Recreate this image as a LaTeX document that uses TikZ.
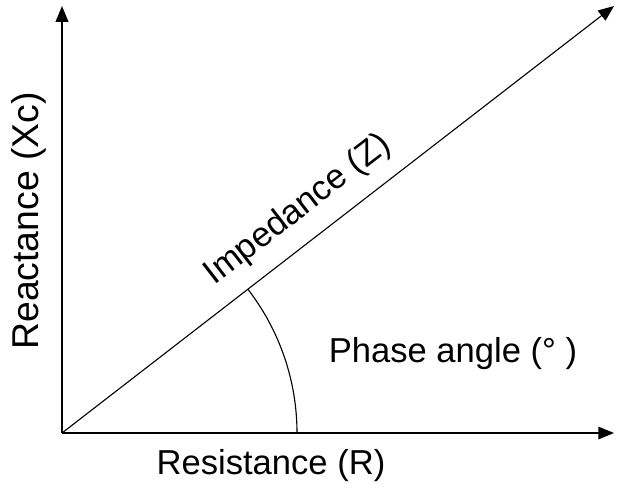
\documentclass[tikz,border=0pt]{standalone}
\usepackage{fontspec}
\setmainfont{Liberation Sans}
\usetikzlibrary{arrows.meta}

\begin{document}
\begin{tikzpicture}[x=0.0254cm, y=-0.0254cm,
    axis/.style={line width=1.1pt, -{Triangle[length=4mm, width=3.2mm]}},
    vec/.style={line width=0.8pt, -{Triangle[length=4mm, width=3.2mm]}},
    lab/.style={font=\fontsize{25}{28}\selectfont, inner sep=1pt}]
    \useasboundingbox (0,0) rectangle (624,489);
    \coordinate (o) at (62,433);
    \coordinate (xend) at (614,433);
    \coordinate (yend) at (62,6);
    \coordinate (zend) at (614,6);
    \draw[axis] (o) -- (xend);
    \draw[axis] (o) -- (yend);
    \draw[vec] (o) -- (zend);
    % phase angle arc
    \draw[line width=0.8pt] (297,433) arc[start angle=0, end angle=-37.7, radius=235];
    \node[lab] (res) at (271,466) {Resistance (R)};
    \node[lab, font=\fontsize{27}{30}\selectfont, rotate=90] (rea) at (29,221) {Reactance (Xc)};
    \node[lab, rotate=37.7] (imp) at (298,210) {Impedance (Z)};
    \node[lab] (pha) at (453,354) {Phase angle (° )};
\end{tikzpicture}
\end{document}
